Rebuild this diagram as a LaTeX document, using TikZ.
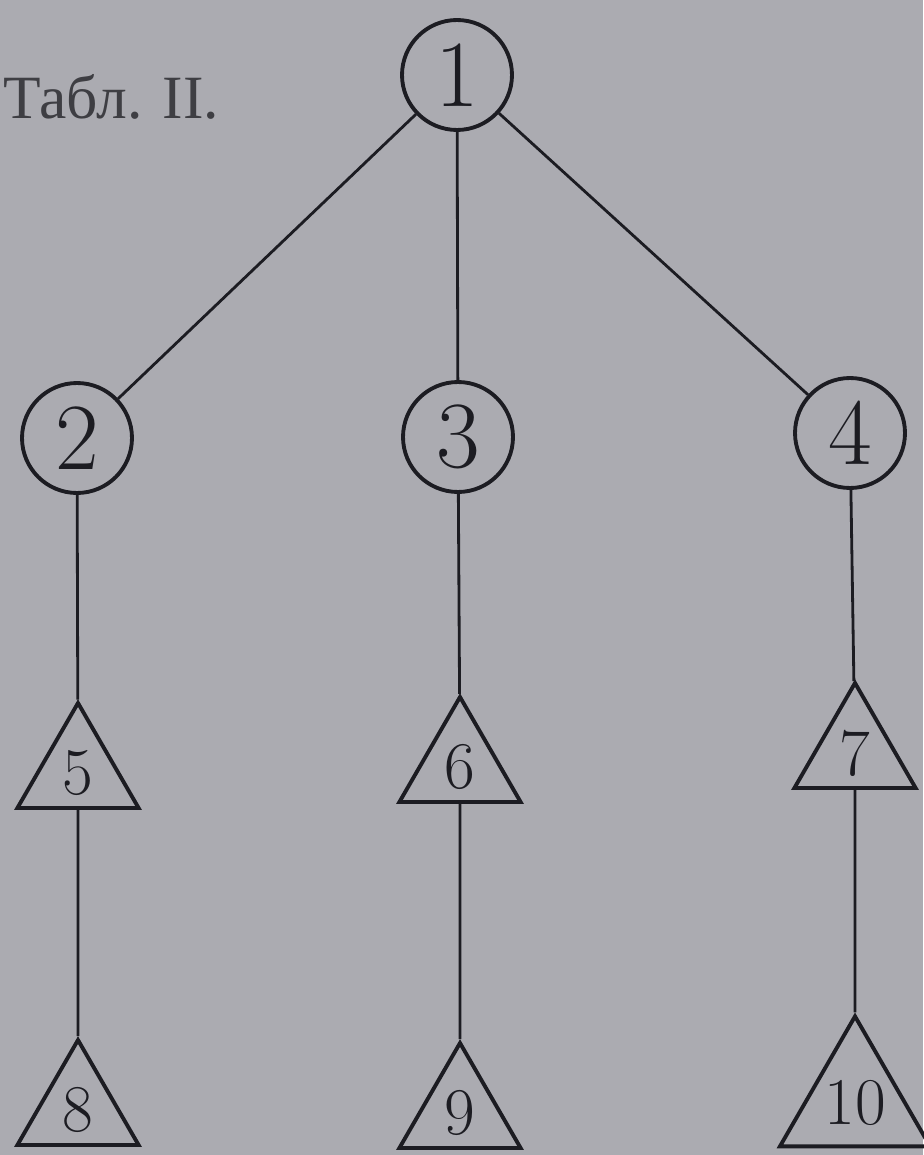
\documentclass[tikz,border=0pt]{standalone}
\usepackage{fontspec}
\newfontfamily\cyrfont{Liberation Serif}
\usepackage{tikz}
\usetikzlibrary{shapes.geometric}
\definecolor{paper}{RGB}{171,171,177}
\definecolor{ink}{RGB}{28,28,34}

\begin{document}
\begin{tikzpicture}[x=0.02cm,y=-0.02cm,
  vert/.style={circle,draw=ink,line width=2.2pt,minimum size=2.2cm,inner sep=0pt,
    font=\fontsize{54}{54}\selectfont,text=ink},
  leaf/.style={regular polygon,regular polygon sides=3,draw=ink,line width=2.2pt,
    minimum size=2.8cm,inner sep=0pt,font=\fontsize{38}{38}\selectfont,text=ink},
  link/.style={draw=ink,line width=1.6pt}]
  \fill[paper] (0,0) rectangle (923,1155);
  \useasboundingbox (0,0) rectangle (923,1155);
  \node[anchor=base west,inner sep=0pt,font=\cyrfont\fontsize{35}{35}\selectfont,
    text=ink!85] (title) at (3,119) {Табл. II.};
  % circles
  \node[vert] (n1) at (457,75) {1};
  \node[vert] (n2) at (77,438) {2};
  \node[vert] (n3) at (458,437) {3};
  \node[vert] (n4) at (850,433) {4};
  % triangles
  \node[leaf] (t5) at (78,773) {5};
  \node[leaf] (t6) at (460,767) {6};
  \node[leaf] (t7) at (855,753) {7};
  \node[leaf] (t8) at (78,1110) {8};
  \node[leaf] (t9) at (460,1113) {9};
  \node[leaf] (t10) at (855,1103) {10};
  \draw[link] (n1) -- (n2);
  \draw[link] (n1) -- (n3);
  \draw[link] (n1) -- (n4);
  \draw[link] (n2) -- (t5);
  \draw[link] (n3) -- (t6);
  \draw[link] (n4) -- (t7);
  \draw[link] (t5) -- (t8);
  \draw[link] (t6) -- (t9);
  \draw[link] (t7) -- (t10);
\end{tikzpicture}
\end{document}
